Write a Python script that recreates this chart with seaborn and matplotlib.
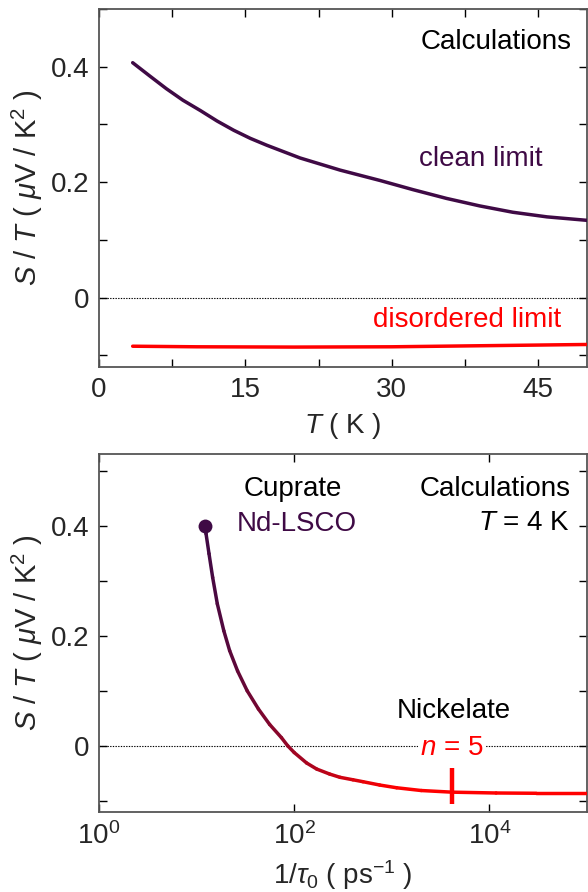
import numpy as np
import pandas as pd
import matplotlib
matplotlib.use("Agg")
import matplotlib.pyplot as plt
import seaborn as sns
from matplotlib.collections import LineCollection
from matplotlib.colors import LinearSegmentedColormap, Normalize
from matplotlib.ticker import MultipleLocator, FixedLocator, NullLocator

# ---------------- data ----------------
# top panel: S/T vs T
T_clean = [3.45, 5.2, 6.9, 8.6, 10.4, 12.1, 13.8, 15.5, 17.2, 20.6, 24.7, 28.8, 32.2, 35.6, 39.0, 42.4, 45.9, 50.0]
S_clean = [0.407, 0.384, 0.362, 0.342, 0.324, 0.306, 0.290, 0.276, 0.264, 0.242, 0.221, 0.203, 0.187, 0.172, 0.159, 0.148, 0.140, 0.134]
T_dis = [3.45, 10.0, 20.0, 30.0, 40.0, 50.0]
S_dis = [-0.084, -0.085, -0.0855, -0.085, -0.083, -0.081]

# bottom panel: S/T vs 1/tau0 at T = 4 K
rate = [12.2, 12.5, 13.4, 14.6, 16.3, 19.0, 21.8, 26.3, 33.0, 43.0, 56.0, 74.0, 86.0,
        100.0, 134.0, 170.0, 230.0, 294.0, 400.0, 507.0, 750.0, 1120.0, 2000.0,
        4150.0, 11700.0, 30000.0, 100000.0]
S_rate = [0.400, 0.385, 0.349, 0.306, 0.258, 0.209, 0.173, 0.136, 0.100, 0.067, 0.039, 0.015, 0.0,
          -0.012, -0.031, -0.042, -0.051, -0.057, -0.0615, -0.065, -0.071, -0.076, -0.081,
          -0.084, -0.0855, -0.086, -0.086]
cuprate_rate = [12.2]
cuprate_S = [0.400]
nickelate_rate = [4150.0]
nickelate_bar = [-0.105, -0.040]

top_xticks = [0, 15, 30, 45]
y_ticks = [0, 0.2, 0.4]
y_ticklabels = ["0", "0.2", "0.4"]
bottom_xticks = [1, 100, 10000]

PURPLE = "#3f0a45"
RED = "#ff0000"

# ---------------- style ----------------
sns.set_style("ticks")
plt.rcParams["font.family"] = ["Liberation Sans", "DejaVu Sans"]
plt.rcParams["mathtext.fontset"] = "custom"
plt.rcParams["mathtext.rm"] = "Liberation Sans"
plt.rcParams["mathtext.it"] = "Liberation Sans:italic"
plt.rcParams["mathtext.bf"] = "Liberation Sans:bold"
plt.rcParams["mathtext.sf"] = "Liberation Sans"
FS = 20
LW = 2.5

fig = plt.figure(figsize=(5.88, 8.92), dpi=100)
ax1 = fig.add_axes([99 / 588, 525 / 892, 488 / 588, 358 / 892])
ax2 = fig.add_axes([99 / 588, 80 / 892, 488 / 588, 358 / 892])


def style_axes(ax):
    for s in ax.spines.values():
        s.set_color("#555555")
        s.set_linewidth(1.3)
        s.set_visible(True)
    ax.tick_params(which="both", direction="in", top=True, right=True,
                   color="black", width=1.0)
    ax.tick_params(which="major", length=6, labelsize=FS, pad=7)
    ax.tick_params(which="minor", length=6)
    ax.axhline(0, color="black", lw=0.8, ls=(0, (1.2, 1.2)), zorder=1)
    ax.set_yticks(y_ticks)
    ax.set_yticklabels(y_ticklabels)
    ax.yaxis.set_minor_locator(FixedLocator([-0.1, 0.1, 0.3, 0.5]))


# ---------------- top panel ----------------
df_c = pd.DataFrame({"T": T_clean, "S": S_clean})
df_d = pd.DataFrame({"T": T_dis, "S": S_dis})
sns.lineplot(data=df_c, x="T", y="S", ax=ax1, color=PURPLE, lw=LW, zorder=3)
sns.lineplot(data=df_d, x="T", y="S", ax=ax1, color=RED, lw=LW, zorder=3)
ax1.set_xlim(0, 50)
ax1.set_ylim(-0.12, 0.50)
style_axes(ax1)
ax1.set_xticks(top_xticks)
ax1.xaxis.set_minor_locator(MultipleLocator(7.5))
ax1.set_xlabel(r"$T$ ( K )", fontsize=FS, labelpad=6)
ax1.set_ylabel(r"$S$ / $T$ ( $\mu$V / K$^2$ )", fontsize=21)
ax1.yaxis.set_label_coords(-0.11, 0.5)

ax1.text(48.4, 0.443, "Calculations", ha="right", va="center", fontsize=FS, color="black")
ax1.text(39.1, 0.241, "clean limit", ha="center", va="center", fontsize=FS, color=PURPLE)
ax1.text(37.7, -0.039, "disordered limit", ha="center", va="center", fontsize=FS, color=RED)

# ---------------- bottom panel ----------------
ax2.set_xscale("log")
ax2.set_xlim(1, 1e5)
ax2.set_ylim(-0.12, 0.53)
style_axes(ax2)
ax2.set_xticks(bottom_xticks)
ax2.xaxis.set_minor_locator(NullLocator())

# gradient line (purple -> red along log x)
cmap = LinearSegmentedColormap.from_list("pr", [PURPLE, RED])
lx = np.log10(np.array(rate))
pts = np.column_stack([rate, S_rate]).reshape(-1, 1, 2)
segs = np.concatenate([pts[:-1], pts[1:]], axis=1)
mid = 0.5 * (lx[:-1] + lx[1:])
norm = Normalize(vmin=1.08, vmax=3.0, clip=True)
lc = LineCollection(segs, colors=cmap(norm(mid)), linewidths=LW,
                    capstyle="round", joinstyle="round", zorder=3)
ax2.add_collection(lc)

df_cu = pd.DataFrame({"r": cuprate_rate, "S": cuprate_S})
sns.scatterplot(data=df_cu, x="r", y="S", ax=ax2, color=PURPLE, s=100,
                edgecolor=PURPLE, linewidth=0, zorder=4)
ax2.vlines(nickelate_rate, nickelate_bar[0], nickelate_bar[1], color=RED, lw=3.2, zorder=4)

ax2.set_xlabel(r"1/$\tau_0$ ( ps$^{-1}$ )", fontsize=FS, labelpad=6)
ax2.set_ylabel(r"$S$ / $T$ ( $\mu$V / K$^2$ )", fontsize=21)
ax2.yaxis.set_label_coords(-0.11, 0.5)

ax2.text(95.7, 0.467, "Cuprate", ha="center", va="center", fontsize=FS, color="black")
ax2.text(105.6, 0.403, "Nd-LSCO", ha="center", va="center", fontsize=FS, color=PURPLE)
ax2.text(67300, 0.467, "Calculations", ha="right", va="center", fontsize=FS, color="black")
ax2.text(67300, 0.404, r"$T$ = 4 K", ha="right", va="center", fontsize=FS, color="black")
ax2.text(4285, 0.0636, "Nickelate", ha="center", va="center", fontsize=FS, color="black")
ax2.text(4110, -0.003, r"$n$ = 5", ha="center", va="center", fontsize=FS, color=RED,
         bbox=dict(facecolor="white", edgecolor="none", pad=1.5), zorder=2)

fig.savefig("out.png", dpi=100)
